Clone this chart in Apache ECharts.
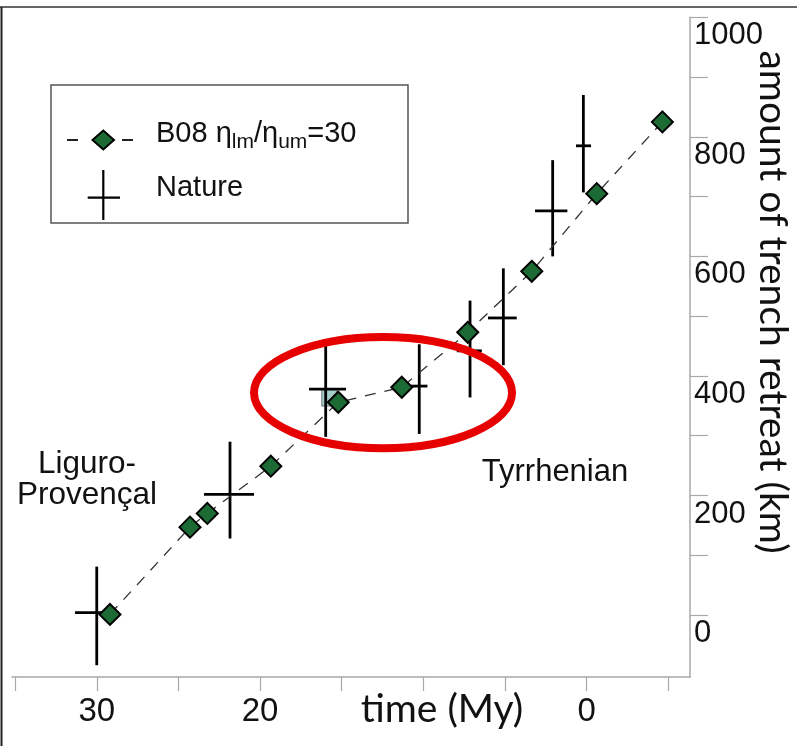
<!DOCTYPE html>
<html>
<head>
<meta charset="utf-8">
<script src="https://cdn.jsdelivr.net/npm/echarts@6/dist/echarts.min.js"></script>
<style>
  html, body { margin: 0; padding: 0; background: #fff; }
  #main { width: 797px; height: 746px; }
</style>
</head>
<body>
<div id="main"></div>
<script>
// ---- data ----
// model B08 (eta_lm/eta_um = 30): time (My) and trench retreat (km)
const modelTime    = [29.19, 24.29, 23.23, 19.34, 15.21, 11.32, 7.28, 3.36, -0.62, -4.64];
const modelRetreat = [1, 147, 170, 249, 356, 381, 473, 575, 705, 825];

// "Nature" observations with error bars
const natureTime        = [30.0, 21.84, 15.98, 10.25, 7.14, 5.10, 2.08, 0.20];
const natureRetreat     = [4, 202, 378, 383, 442, 497, 676, 785];
const natureRetreatLow  = [-84, 128, 298, 303, 364, 418, 600, 707];
const natureRetreatHigh = [81, 290, 460, 453, 526, 580, 761, 870];
const natureTimeLow     = [28.67, 20.37, 14.73, 9.75, 6.42, 4.28, 1.18, -0.27];
const natureTimeHigh    = [31.33, 23.43, 17.00, 10.80, 7.95, 6.04, 3.16, 0.65];

// small grey-green square behind the 16 My point
const extraTime = [15.76];
const extraRetreat = [364];

// axes
const timeTicks = [35, 30, 25, 20, 15, 10, 5, 0, -5];
const timeLabels = [30, 20, 0];
const retreatTicks = [0, 100, 200, 300, 400, 500, 600, 700, 800, 900, 1000];
const retreatLabels = [0, 200, 400, 600, 800, 1000];

// annotation ellipse (data units: centre time, centre retreat, half-width My, half-height km)
const ellipseCenter = [12.47, 372];
const ellipseHalf = [7.9, 93];

const labelFont = '"Liberation Sans", Arial, Helvetica, sans-serif';
const titleFont = 'Lato, "Open Sans", sans-serif';

const chart = echarts.init(document.getElementById('main'), null, { renderer: 'canvas' });

const natureData = natureTime.map((t, i) => [t, natureRetreat[i], natureRetreatLow[i], natureRetreatHigh[i], natureTimeLow[i], natureTimeHigh[i]]);

chart.setOption({
  animation: false,
  backgroundColor: '#ffffff',
  grid: { left: 12, right: 107, top: 17.3, bottom: 69, containLabel: false },
  xAxis: {
    type: 'value',
    inverse: true,
    min: -6.33,
    max: 35.19,
    splitLine: { show: false },
    axisLine: { show: true, onZero: false, lineStyle: { color: '#a8a8a8', width: 1.5 } },
    axisTick: { show: true, inside: false, length: 14, customValues: timeTicks, lineStyle: { color: '#a8a8a8', width: 1.2 } },
    axisLabel: { show: true, customValues: timeLabels, fontSize: 33, fontFamily: labelFont, color: '#111', margin: 18,
                 formatter: v => String(v) }
  },
  yAxis: {
    type: 'value',
    position: 'right',
    min: -103.7,
    max: 1000,
    splitLine: { show: false },
    axisLine: { show: true, onZero: false, lineStyle: { color: '#a8a8a8', width: 1.5 } },
    axisTick: { show: true, inside: false, length: 18, customValues: retreatTicks, lineStyle: { color: '#a8a8a8', width: 1.2 } },
    axisLabel: { show: true, customValues: retreatLabels, fontSize: 31, fontFamily: labelFont, color: '#111', margin: 4,
                 verticalAlign: 'top', lineHeight: 31, padding: [3, 0, 0, 0], formatter: v => String(v) }
  },
  series: [
    {
      name: 'extra',
      type: 'scatter',
      z: 1,
      symbol: 'rect',
      symbolSize: [15, 17],
      itemStyle: { color: '#8ec2bb', borderColor: '#555', borderWidth: 1 },
      data: extraTime.map((t, i) => [t, extraRetreat[i]])
    },
    {
      name: 'Nature',
      type: 'custom',
      z: 2,
      encode: { x: 0, y: 1 },
      renderItem: function (params, api) {
        const t = api.value(0), r = api.value(1);
        const c = api.coord([t, r]);
        const lo = api.coord([t, api.value(2)]);
        const hi = api.coord([t, api.value(3)]);
        const l = api.coord([api.value(4), r]);
        const rr = api.coord([api.value(5), r]);
        const st = { stroke: '#000', lineWidth: 2.8 };
        return {
          type: 'group',
          children: [
            { type: 'line', shape: { x1: c[0], y1: hi[1], x2: c[0], y2: lo[1] }, style: st },
            { type: 'line', shape: { x1: l[0], y1: c[1], x2: rr[0], y2: c[1] }, style: st }
          ]
        };
      },
      data: natureData
    },
    {
      name: 'B08',
      type: 'line',
      z: 3,
      symbol: 'diamond',
      symbolSize: 21,
      showAllSymbol: true,
      lineStyle: { color: '#333', width: 1.3, type: [11, 9] },
      itemStyle: { color: '#1c6b34', borderColor: '#000', borderWidth: 2 },
      data: modelTime.map((t, i) => [t, modelRetreat[i]])
    }
  ]
});

// annotation ellipse position from the chart's own scales
const pc = chart.convertToPixel({ gridIndex: 0 }, ellipseCenter);
const pe = chart.convertToPixel({ gridIndex: 0 }, [ellipseCenter[0] - ellipseHalf[0], ellipseCenter[1] + ellipseHalf[1]]);
const rx = Math.abs(pe[0] - pc[0]);
const ry = Math.abs(pc[1] - pe[1]);

chart.setOption({
  graphic: [
    // frame lines (top & left)
    { type: 'line', shape: { x1: 0, y1: 7, x2: 797, y2: 7 }, style: { stroke: '#333', lineWidth: 1.5 }, z: 100 },
    { type: 'line', shape: { x1: 1.5, y1: 7, x2: 1.5, y2: 746 }, style: { stroke: '#222', lineWidth: 2 }, z: 100 },
    // red ellipse
    { type: 'ellipse', shape: { cx: pc[0], cy: pc[1], rx: rx, ry: ry }, style: { fill: null, stroke: '#e60000', lineWidth: 8 }, z: 50 },
    // legend box
    { type: 'rect', shape: { x: 51, y: 85, width: 357, height: 138 }, style: { fill: '#fff', stroke: '#555', lineWidth: 1.5 }, z: 60 },
    { type: 'line', shape: { x1: 67, y1: 140, x2: 78, y2: 140 }, style: { stroke: '#222', lineWidth: 2 }, z: 61 },
    { type: 'line', shape: { x1: 122, y1: 140, x2: 133, y2: 140 }, style: { stroke: '#222', lineWidth: 2 }, z: 61 },
    { type: 'polygon', shape: { points: [[92.5, 140], [103.3, 130.5], [114, 140], [103.3, 149.5]] }, style: { fill: '#1c6b34', stroke: '#000', lineWidth: 2 }, z: 61 },
    { type: 'line', shape: { x1: 103.3, y1: 170, x2: 103.3, y2: 220 }, style: { stroke: '#000', lineWidth: 2.2 }, z: 61 },
    { type: 'line', shape: { x1: 87.7, y1: 197.7, x2: 120, y2: 197.7 }, style: { stroke: '#000', lineWidth: 2.2 }, z: 61 },
    { type: 'text', x: 156, y: 134, z: 61,
      style: { text: '{m|B08 η}{s|lm}{m|/η}{s|um}{m|=30}', x: 0, y: 0, verticalAlign: 'middle', align: 'left',
               rich: { m: { fontSize: 29, fontFamily: labelFont, fill: '#111', lineHeight: 34 },
                       s: { fontSize: 21, fontFamily: labelFont, fill: '#111', lineHeight: 34, padding: [16, 0, 0, 0] } } } },
    { type: 'text', x: 156, y: 188, z: 61,
      style: { text: 'Nature', x: 0, y: 0, verticalAlign: 'middle', align: 'left', fontSize: 29, fontFamily: labelFont, fill: '#111' } },
    // region annotations
    { type: 'text', x: 87, y: 480, z: 61,
      style: { text: 'Liguro-\nProvençal', x: 0, y: 0, align: 'center', verticalAlign: 'middle', fontSize: 31.5, lineHeight: 31, fontFamily: labelFont, fill: '#111' } },
    { type: 'text', x: 555, y: 472, z: 61,
      style: { text: 'Tyrrhenian', x: 0, y: 0, align: 'center', verticalAlign: 'middle', fontSize: 31, fontFamily: labelFont, fill: '#111' } },
    // axis titles
    { type: 'text', x: 442, y: 709, z: 61,
      style: { text: 'time (My)', x: 0, y: 0, align: 'center', verticalAlign: 'middle', fontSize: 39, fontFamily: titleFont, fill: '#111' } },
    { type: 'text', x: 773, y: 302, rotation: -Math.PI / 2, z: 61,
      style: { text: 'amount of trench retreat (km)', x: 0, y: 0, align: 'center', verticalAlign: 'middle', fontSize: 39, fontFamily: titleFont, fill: '#111' } }
  ]
});
</script>
</body>
</html>
